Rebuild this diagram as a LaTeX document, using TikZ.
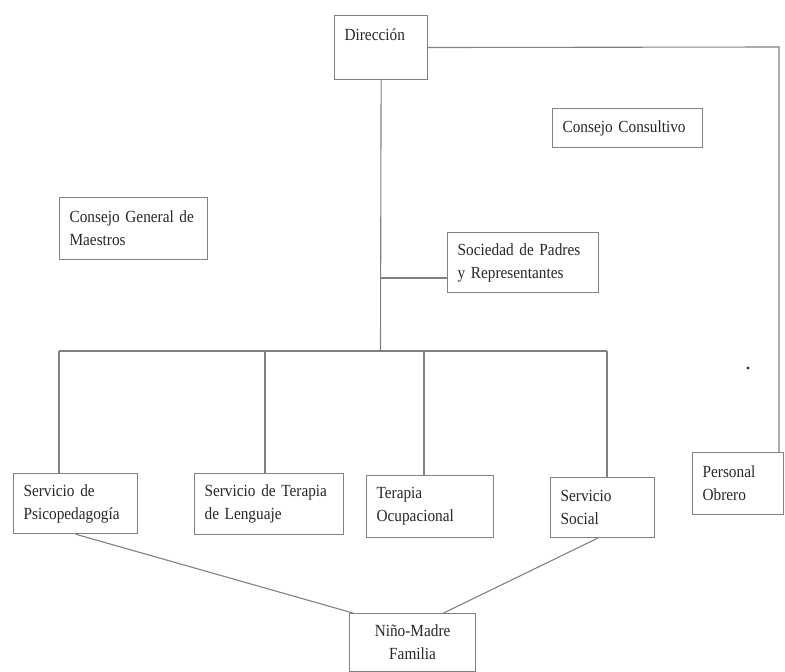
\documentclass[tikz,border=0pt]{standalone}
\usepackage{fontspec}
\setmainfont{Liberation Serif}[FakeStretch=0.9]
\usetikzlibrary{calc}
\begin{document}
\begin{tikzpicture}[x=1pt,y=-1pt,
  orgbox/.style={draw=black!50, line width=1.2pt, anchor=north west, align=left,
    inner xsep=10pt, inner ysep=4pt, text=black!85,
    font=\fontsize{17pt}{23pt}\selectfont},
  link/.style={draw=black!50, line width=1.1pt}]
\useasboundingbox (0,0) rectangle (785,672);
% boxes: (left,top), width, height
\node[orgbox, text width=73pt, text depth=26pt, inner ysep=13pt] (dir) at (334,15) {Dirección};
\node[orgbox, text width=130pt, minimum height=39pt] (cc) at (552,108) {Consejo Consultivo};
\node[orgbox, text width=128pt, minimum height=62pt] (cgm) at (59,197) {Consejo General de\\Maestros};
\node[orgbox, text width=131pt, minimum height=60pt] (spr) at (447,232) {Sociedad de Padres\\y Representantes};
\node[orgbox, text width=104pt, minimum height=60pt] (psi) at (13,473) {Servicio de\\Psicopedagogía};
\node[orgbox, text width=129pt, minimum height=61pt] (ter) at (194,473) {Servicio de Terapia\\de Lenguaje};
\node[orgbox, text width=107pt, minimum height=62pt] (ocu) at (366,475) {Terapia\\Ocupacional};
\node[orgbox, text width=84pt, minimum height=60pt] (soc) at (550,477) {Servicio\\Social};
\node[orgbox, text width=71pt, minimum height=62pt] (obr) at (692,452) {Personal\\Obrero};
\node[orgbox, align=center, text width=106pt, minimum height=58pt] (nino) at (349,613) {Niño-Madre\\Familia};
% connector points
\coordinate (corner) at (779,47);
\coordinate (bus) at (380.5,351);
\coordinate (b1) at (59,351);
\coordinate (b2) at (265,351);
\coordinate (b3) at (424,351);
\coordinate (b4) at (607,351);
\coordinate (sprin) at (447,278);
% connectors
\draw[link] (dir.east) -- (corner) -- (corner |- obr.north);
\draw[link] (dir.south) -- (bus);
\draw[link] (dir.south |- sprin) -- (sprin);
\draw[link] (b1) -- (b4);
\draw[link] (b1) -- (b1 |- psi.north);
\draw[link] (b2) -- (b2 |- ter.north);
\draw[link] (b3) -- (b3 |- ocu.north);
\draw[link] (b4) -- (b4 |- soc.north);
\draw[link] (psi.south) -- ($(nino.north west)+(4,0)$);
\draw[link] ($(soc.south)+(-5,0)$) -- ($(nino.north)+(31,0)$);
\fill[black!80] (748,368) circle (1.6pt);
\end{tikzpicture}
\end{document}
